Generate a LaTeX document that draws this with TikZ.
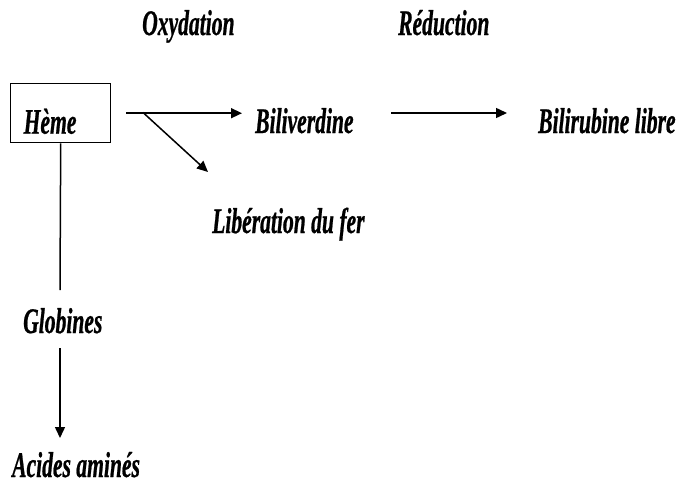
\documentclass[tikz,border=0pt]{standalone}
\usepackage{fontspec}
\newfontfamily\labfont{Liberation Serif Bold Italic}[FakeStretch=0.6, FakeBold=0.6]
\usetikzlibrary{arrows.meta}
\begin{document}
\begin{tikzpicture}[x=1pt,y=-1pt,
  lab/.style={inner sep=0pt, anchor=base west, font=\fontsize{36}{40}\labfont},
  arr/.style={line width=1.5pt, -{Triangle[length=11pt,width=10pt]}},
  ln/.style={line width=1.5pt}]
\useasboundingbox (0,0) rectangle (683,485);
\node[draw, line width=1.4pt, anchor=north west, inner xsep=13pt, inner ysep=0pt,
      text height=50pt, text depth=9pt, text width=74pt,
      font=\fontsize{36}{40}\labfont] (heme) at (10,83) {Hème};
\node[lab] (oxy) at (142,35) {Oxydation};
\node[lab] (red) at (398,35) {Réduction};
\node[lab] (bili) at (255,133) {Biliverdine};
\node[lab] (bilir) at (538,133) {Bilirubine libre};
\node[lab] (fer) at (212,233) {Libération du fer};
\node[lab] (glob) at (23,333) {Globines};
\node[lab] (acid) at (12,477) {Acides aminés};
\coordinate (split) at (143,112.5);
\coordinate (fertip) at (208,172);
\coordinate (r1) at (391,113);
\coordinate (r2) at (507,113);
\coordinate (g1) at (60,290);
\coordinate (g2) at (60,348);
\coordinate (g3) at (60,438);
\draw[arr, shorten <=15pt, shorten >=13pt] (heme.east) -- (heme.east -| bili.west);
\draw[arr] (split) -- (fertip);
\draw[arr] (r1) -- (r2);
\draw[ln] (heme.south) -- (g1);
\draw[arr] (g2) -- (g3);
\end{tikzpicture}
\end{document}
